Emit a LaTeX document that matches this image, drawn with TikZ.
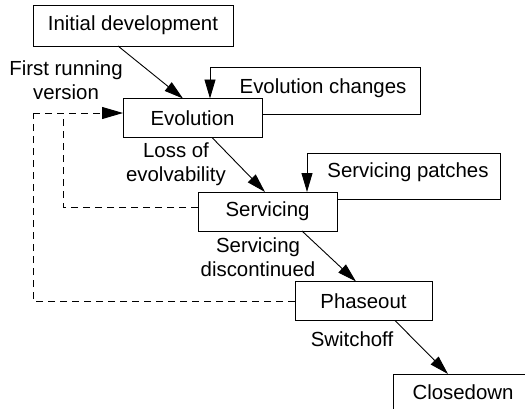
\documentclass[tikz,border=0pt]{standalone}
\usepackage{fontspec}
\setmainfont{Liberation Sans}
\usetikzlibrary{arrows.meta}
\tikzset{
  stage/.style = {draw, rectangle, minimum width=#1, minimum height=39,
                  inner sep=0pt, outer sep=0pt},
  stage/.default = 139,
  lbl/.style = {align=center, inner sep=0pt},
  flow/.style = {line width=0.9pt, -{Triangle[length=19pt,width=11pt]}},
  back/.style = {line width=0.9pt, dash pattern=on 7pt off 5pt}
}

\begin{document}
\begin{tikzpicture}[x=1pt, y=-1pt, line width=0.9pt,
                    every node/.style={font=\fontsize{20.4}{24}\selectfont}]
	\useasboundingbox (0,0) rectangle (525,410);
	\clip (0,0) rectangle (525,408.5);

	% Stages
	\node[stage=200, minimum height=41] (init)  at (133,25.5)  {Initial development};
	\node[stage=139] (evol)  at (192.5,118) {Evolution};
	\node[stage=139] (serv)  at (267.5,211.5) {Servicing};
	\node[stage=137] (phase) at (363.5,301) {Phaseout};
	% runs off the bottom edge
	\node[stage=140, minimum height=0, text height=25pt, text depth=30pt,
	      anchor=base] (close) at (463,399) {Closedown};

	% Main flow
	\draw[flow] ([xshift=-15pt]init.south)  -- ([xshift=-9.5pt]evol.north);
	\draw[flow] ([xshift=19.5pt]evol.south) -- ([xshift=-2.5pt]serv.north);
	\draw[flow] ([xshift=34.5pt]serv.south) -- ([xshift=-7.5pt]phase.north);
	\draw[flow] ([xshift=31.5pt]phase.south) -- ([xshift=-15pt]close.north);

	% Loops
	\coordinate (chgR) at (420,67);
	\coordinate (patR) at (500,153);
	\draw[flow] ([yshift=4pt]evol.east) -| (chgR) -| ([xshift=17.5pt]evol.north);
	\draw[flow] ([yshift=12.5pt]serv.east) -| (patR) -| ([xshift=39.5pt]serv.north);
	\node[lbl] (chg) at (323,88)  {Evolution changes};
	\node[lbl] (pat) at (408,172) {Servicing patches};

	% Back to evolution (dashed)
	\coordinate (backA) at (63,113);
	\coordinate (backB) at (33,113);
	\draw[back] ([yshift=4.5pt]serv.west) -| (backA);
	\draw[back] (phase.west) -| (backB);
	\draw[back, -{Triangle[length=21pt,width=12pt]}] (backB) -- ([yshift=5pt]evol.west);

	% Transition labels
	\node[lbl] (first) at (66,80)   {First running\\version};
	\node[lbl] (loss)  at (176,164) {Loss of\\evolvability};
	\node[lbl] (disc)  at (258,257) {Servicing\\discontinued};
	\node[lbl] (off)   at (352,339) {Switchoff};
\end{tikzpicture}
\end{document}
